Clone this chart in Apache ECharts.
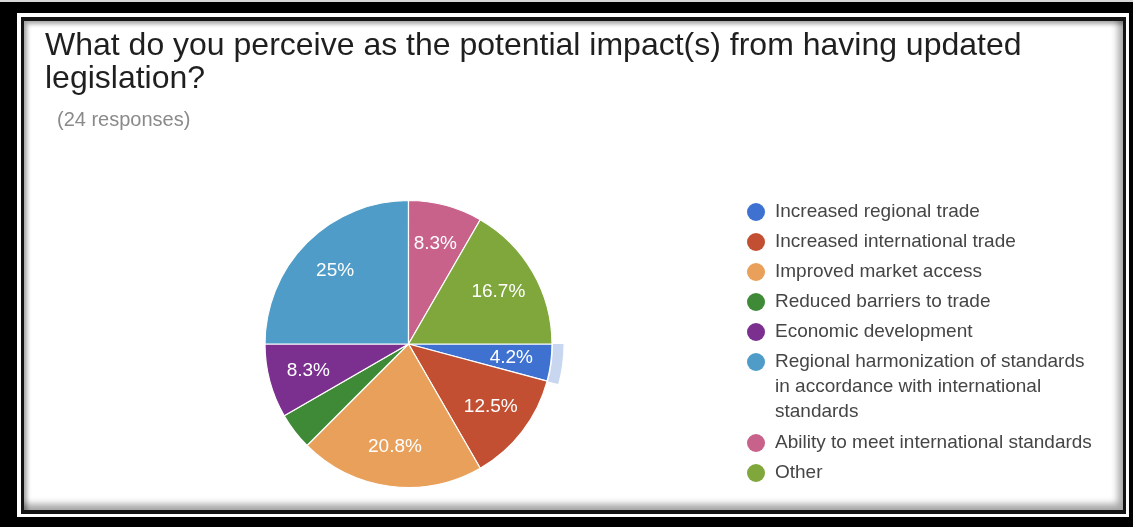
<!DOCTYPE html>
<html>
<head>
<meta charset="utf-8">
<script src="https://cdn.jsdelivr.net/npm/echarts@6/dist/echarts.min.js"></script>
<style>
  html, body { margin: 0; padding: 0; background: #000; width: 1133px; height: 527px; overflow: hidden; }
  .topline { position: absolute; left: 0; top: 0; width: 1133px; height: 2px; background: #d8d8d8; }
  .gap { position: absolute; left: 17px; top: 13px; width: 1112px; height: 504px; background: #fff; }
  .line { position: absolute; left: 21px; top: 17px; width: 1105px; height: 497px; background: #141414; }
  .content { position: absolute; left: 24px; top: 21px; width: 1099px; height: 489px; background: #fff;
    box-shadow: inset -5px -6px 7px rgba(0,0,0,0.35), inset 3px 3px 4px rgba(0,0,0,0.35); }
  #chart { position: absolute; left: 0; top: 0; width: 1133px; height: 527px; }
</style>
</head>
<body>
<div class="topline"></div>
<div class="gap"></div>
<div class="line"></div>
<div class="content"></div>
<div id="chart"></div>
<script>
// ---- data ----
const titleLines = ['What do you perceive as the potential impact(s) from having updated', 'legislation?'];
const subtitle = '(24 responses)';
const categories = [
  'Increased regional trade',
  'Increased international trade',
  'Improved market access',
  'Reduced barriers to trade',
  'Economic development',
  'Regional harmonization of standards in accordance with international standards',
  'Ability to meet international standards',
  'Other'
];
// legend text as wrapped in the reference (leading blank lines keep the first line beside the dot)
const legendLabels = [
  'Increased regional trade',
  'Increased international trade',
  'Improved market access',
  'Reduced barriers to trade',
  'Economic development',
  '\n\nRegional harmonization of standards\nin accordance with international\nstandards',
  'Ability to meet international standards',
  'Other'
];
const responses = [1, 3, 5, 1, 2, 6, 2, 4];
const sliceColors = ['#3f72d0', '#c24f31', '#e9a05a', '#3f8a37', '#7b2f8f', '#4e9cc7', '#c8628a', '#7fa73c'];
const labelShown = [true, true, true, false, true, true, true, true];
const highlighted = [true, false, false, false, false, false, false, false];

// ---- chart ----
const FONT = '"Liberation Sans", Arial, Helvetica, sans-serif';
const chart = echarts.init(document.getElementById('chart'), null, { renderer: 'canvas' });

const pieData = categories.map((name, i) => ({
  name: name,
  value: responses[i],
  itemStyle: { color: sliceColors[i] }
}));
const labelData = categories.map((name, i) => ({
  name: name,
  value: responses[i],
  label: { show: labelShown[i] }
}));
const ringData = categories.map((name, i) => ({
  name: name,
  value: responses[i],
  itemStyle: { color: highlighted[i] ? '#c8d7ef' : 'rgba(0,0,0,0)' }
}));

const legendCommon = {
  orient: 'vertical',
  left: 747,
  padding: 0,
  icon: 'circle',
  itemWidth: 28,
  itemHeight: 18,
  itemGap: 5,
  selectedMode: false,
  itemStyle: { borderWidth: 0 },
  formatter: name => legendLabels[categories.indexOf(name)],
  textStyle: { fontFamily: FONT, fontSize: 19, color: '#454545', lineHeight: 25 }
};

const option = {
  animation: false,
  title: [
    {
      text: titleLines.join('\n'),
      left: 45, top: 30, padding: 0,
      textStyle: { fontFamily: FONT, fontSize: 32, fontWeight: 'normal', color: '#1f1f1f', lineHeight: 33 }
    },
    {
      text: subtitle,
      left: 57, top: 110.5, padding: 0,
      textStyle: { fontFamily: FONT, fontSize: 20, fontWeight: 'normal', color: '#8a8a8a', lineHeight: 20 }
    }
  ],
  legend: [
    Object.assign({}, legendCommon, { top: 199.5, data: categories.slice(0, 5) }),
    Object.assign({}, legendCommon, { top: 299.5, data: categories.slice(5, 6) }),
    Object.assign({}, legendCommon, { top: 430.5, data: categories.slice(6) })
  ],
  series: [
    {
      type: 'pie',
      center: [408.5, 344],
      radius: [0, 143.5],
      startAngle: 0,
      clockwise: true,
      percentPrecision: 1,
      silent: true,
      label: { show: false },
      labelLine: { show: false },
      emphasis: { disabled: true },
      itemStyle: { borderColor: '#ffffff', borderWidth: 1.2 },
      data: pieData
    },
    {
      type: 'pie',
      center: [408.5, 344],
      radius: [58, 143.5],
      startAngle: 0,
      clockwise: true,
      percentPrecision: 1,
      silent: true,
      itemStyle: { color: 'rgba(0,0,0,0)' },
      emphasis: { disabled: true },
      labelLine: { show: false },
      label: {
        position: 'inside',
        formatter: '{d}%',
        color: '#ffffff',
        fontFamily: FONT,
        fontSize: 19
      },
      data: labelData
    },
    {
      type: 'pie',
      center: [408.5, 344],
      radius: [144.5, 155],
      startAngle: 0,
      clockwise: true,
      silent: true,
      label: { show: false },
      labelLine: { show: false },
      emphasis: { disabled: true },
      data: ringData
    }
  ]
};
chart.setOption(option);
</script>
</body>
</html>
